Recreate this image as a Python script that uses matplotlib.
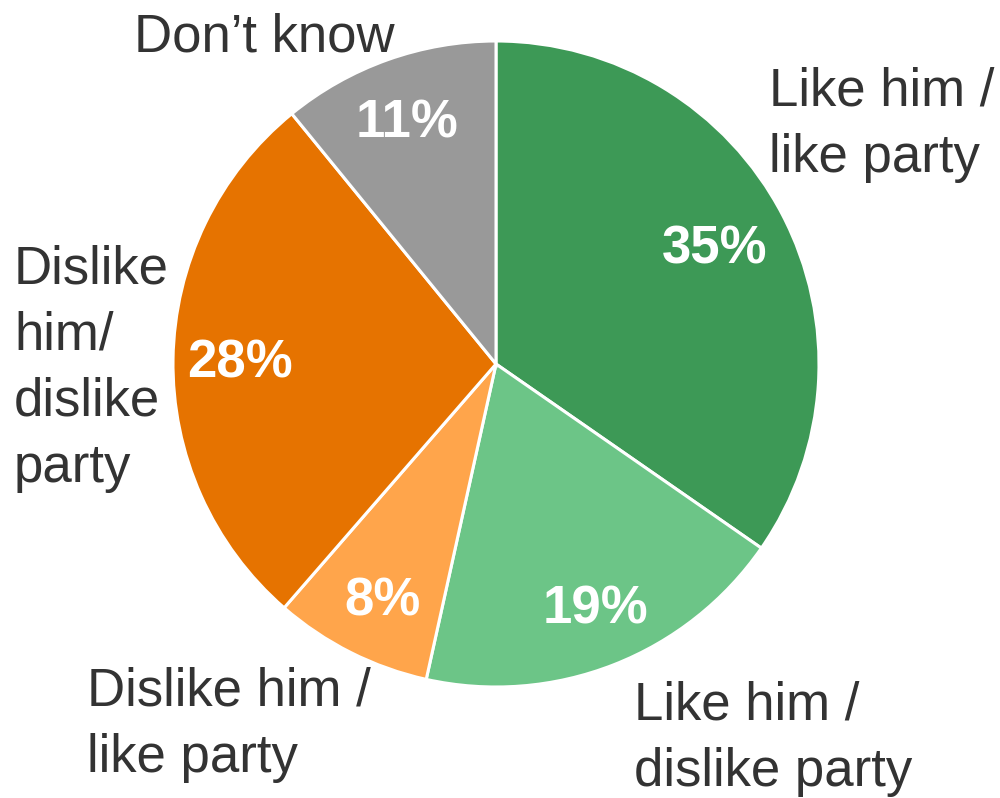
import matplotlib.pyplot as plt
import numpy as np

plt.rcParams['font.family'] = ['Liberation Sans', 'DejaVu Sans']

# datos
categorias = ["Like him /\nlike party", "Like him /\ndislike party", "Dislike him /\nlike party",
              "Dislike\nhim/\ndislike\nparty", "Don\u2019t know"]
valores = [35, 19, 8, 28, 11]
colores = ["#3d9956", "#6cc587", "#ffa54b", "#e67300", "#999999"]

W, H = 1000, 798
fig = plt.figure(figsize=(W / 100, H / 100), dpi=100)
ax = fig.add_axes([0, 0, 1, 1])

# centro y radio en pixeles (y hacia arriba)
cx, cy, R = 496, H - 364, 323
wedges, _ = ax.pie(valores, colors=colores, startangle=90, counterclock=False,
                   center=(cx, cy), radius=R, frame=True,
                   wedgeprops=dict(edgecolor="white", linewidth=2.2))
ax.set_xlim(0, W)
ax.set_ylim(0, H)
ax.set_aspect("equal")
ax.axis("off")

# porcentajes
pct_pos = [(715, 250), (595, 610), (383, 602), (240, 364), (407, 124)]
for v, (x, y) in zip(valores, pct_pos):
    ax.text(x, H - y, f"{v}%", color="white", fontsize=38, fontweight="bold",
            ha="center", va="center")

# etiquetas externas (esquina superior izquierda)
lab_pos = [(769, 67), (634, 681), (87, 667), (14, 244), (134, 12)]
for c, (x, y) in zip(categorias, lab_pos):
    ax.text(x, H - y, c, color="#333333", fontsize=38, ha="left", va="top",
            linespacing=1.42)

fig.savefig("out.png", dpi=100)
